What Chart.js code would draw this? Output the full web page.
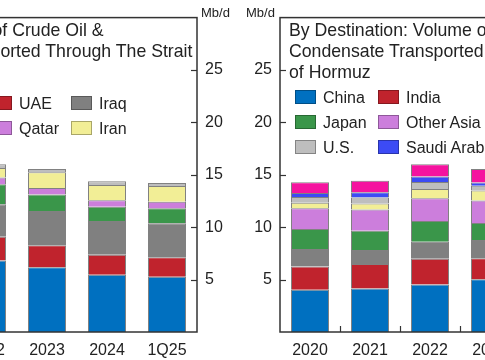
<!DOCTYPE html>
<html><head><meta charset="utf-8">
<script src="https://cdn.jsdelivr.net/npm/chart.js@4/dist/chart.umd.min.js"></script>
<style>
html,body{margin:0;padding:0;background:#fff;width:485px;height:360px;overflow:hidden;position:relative;font-family:"Liberation Sans",Arial,sans-serif;color:#222}
canvas{position:absolute;top:0}
.title{position:absolute;top:20px;font-size:17.7px;line-height:21px;white-space:nowrap;color:#222}
.unit{position:absolute;top:5px;font-size:13px;line-height:16px;color:#222}
.leg{position:absolute;font-size:16px;white-space:nowrap;height:20px;line-height:20px;color:#222}
.leg i{display:inline-block;width:21px;height:14px;border:1px solid rgba(0,0,0,.3);box-sizing:border-box;vertical-align:middle;margin-right:7px;position:relative;top:-2px}
</style></head>
<body>
<canvas id="cl" width="300" height="360" style="left:-43px"></canvas>
<canvas id="cr" width="280" height="360" style="left:240px"></canvas>
<div id="overlay"></div>
<script>
// ---- Left panel: by origin (Mb/d) ----
const originCategories = ['2022', '2023', '2024', '1Q25'];
const originSaudiArabia = [6.82, 6.19, 5.47, 5.28];
const originUAE        = [2.27, 2.08, 1.89, 1.86];
const originIraq       = [3.10, 3.27, 3.24, 3.24];
const originKuwait     = [1.92, 1.57, 1.35, 1.42];
const originQatar      = [0.63, 0.63, 0.63, 0.63];
const originIran       = [0.90, 1.51, 1.45, 1.51];
const originOther      = [0.36, 0.31, 0.35, 0.28];
const originLabels = ['Saudi Arabia', 'UAE', 'Iraq', 'Kuwait', 'Qatar', 'Iran', 'Other'];

// ---- Right panel: by destination (Mb/d) ----
const destCategories = ['2020', '2021', '2022', '2023'];
const destChina       = [4.04, 4.15, 4.53, 5.03];
const destIndia       = [2.22, 2.33, 2.45, 2.01];
const destSouthKorea  = [1.66, 1.35, 1.64, 1.73];
const destJapan       = [1.90, 1.82, 1.98, 1.64];
const destOtherAsia   = [1.98, 2.04, 2.17, 2.14];
const destEurope      = [0.54, 0.57, 0.88, 0.94];
const destUS          = [0.55, 0.57, 0.66, 0.47];
const destSaudiArabia = [0.38, 0.50, 0.53, 0.31];
const destOther       = [1.01, 1.10, 1.16, 1.29];
const destLabels = ['China', 'India', 'South Korea', 'Japan', 'Other Asia', 'Europe', 'U.S.', 'Saudi Arabia', 'Other'];

const yTickValues = [5, 10, 15, 20, 25];

// styles
const C = {blue:'#0070C0', red:'#C0232D', gray:'#808080', green:'#3A964A', purple:'#CC7EDC', yellow:'#F2EE96', lgray:'#BEBEBE', violet:'#3C4BF5', magenta:'#F5139F'};
const originColors = [C.blue, C.red, C.gray, C.green, C.purple, C.yellow, C.lgray];
const destColors = [C.blue, C.red, C.gray, C.green, C.purple, C.yellow, C.lgray, C.violet, C.magenta];
const FONT = '"Liberation Sans", Arial, sans-serif';

const frame = {
  id: 'frame',
  afterDatasetsDraw(chart, args, opts) {
    const {ctx, chartArea: a, scales: {x, y}} = chart;
    ctx.save();
    ctx.strokeStyle = '#333';
    ctx.lineWidth = 1.5;
    ctx.strokeRect(a.left, a.top, a.right - a.left, a.bottom - a.top);
    ctx.lineWidth = 1.2;
    const ax = opts.side === 'right' ? a.right : a.left;
    const dir = opts.side === 'right' ? -1 : 1;
    yTickValues.forEach(v => {
      const py = Math.round(y.getPixelForValue(v)) + 0.5;
      ctx.beginPath(); ctx.moveTo(ax, py); ctx.lineTo(ax + dir * 6, py); ctx.stroke();
    });
    if (opts.xTicks) {
      for (let i = 0; i < x.ticks.length - 1; i++) {
        const px = Math.round((x.getPixelForValue(i) + x.getPixelForValue(i + 1)) / 2) + 0.5;
        ctx.beginPath(); ctx.moveTo(px, a.bottom); ctx.lineTo(px, a.bottom - 6); ctx.stroke();
      }
    }
    ctx.restore();
  }
};

function makeChart(id, cats, series, labels, colors, side, yWidth, xTicks) {
  return new Chart(document.getElementById(id), {
    type: 'bar',
    data: {
      labels: cats,
      datasets: series.map((d, i) => ({
        label: labels[i], data: d, backgroundColor: colors[i],
        borderColor: 'rgba(45,45,45,0.6)', borderWidth: 1,
        barPercentage: 38 / 60, categoryPercentage: 1
      }))
    },
    options: {
      responsive: false, animation: false,
      layout: {padding: {top: 13, left: 0, right: 0, bottom: 0}},
      plugins: {legend: {display: false}, tooltip: {enabled: false}, frame: {side, xTicks}},
      scales: {
        x: {
          stacked: true,
          grid: {display: false, drawTicks: false}, border: {display: false},
          ticks: {font: {family: FONT, size: 16}, color: '#222', padding: 9, maxRotation: 0, autoSkip: false},
          afterFit(s) { s.height = 28; }
        },
        y: {
          stacked: true, position: side, min: 0, max: 30,
          grid: {display: false, drawTicks: false}, border: {display: false},
          ticks: {stepSize: 5, font: {family: FONT, size: 16}, color: '#222', padding: 8,
                  callback: v => yTickValues.includes(v) ? String(v) : ''},
          afterFit(s) { s.width = yWidth; }
        }
      }
    },
    plugins: [frame]
  });
}

makeChart('cl', originCategories,
  [originSaudiArabia, originUAE, originIraq, originKuwait, originQatar, originIran, originOther],
  originLabels, originColors, 'right', 60, false);
makeChart('cr', destCategories,
  [destChina, destIndia, destSouthKorea, destJapan, destOtherAsia, destEurope, destUS, destSaudiArabia, destOther],
  destLabels, destColors, 'left', 40, true);

// ---- overlays: titles, units, legends ----
const ov = document.getElementById('overlay');
function add(cls, html, left, top) {
  const d = document.createElement('div');
  d.className = cls; d.innerHTML = html;
  d.style.left = left + 'px';
  if (top !== undefined) d.style.top = top + 'px';
  ov.appendChild(d);
}
add('title', 'By Origin: Volume of Crude Oil &amp;<br>Condensate Transported Through The Strait<br>of Hormuz', -154);
add('title', 'By Destination: Volume of Crude Oil &amp;<br>Condensate Transported Through The Strait<br>of Hormuz', 289);
add('unit', 'Mb/d', 201);
add('unit', 'Mb/d', 246);

function legend(labels, colors, colX, rowY) {
  labels.forEach((lab, i) => {
    const c = i % 3, r = Math.floor(i / 3);
    add('leg', '<i style="background:' + colors[i] + '"></i>' + lab, colX[c], rowY[r] - 10);
  });
}
legend(originLabels, originColors, [-148, -9, 71], [104, 129, 154]);
legend(destLabels, destColors, [295, 378, 505], [98, 123, 148]);
</script>
</body></html>
